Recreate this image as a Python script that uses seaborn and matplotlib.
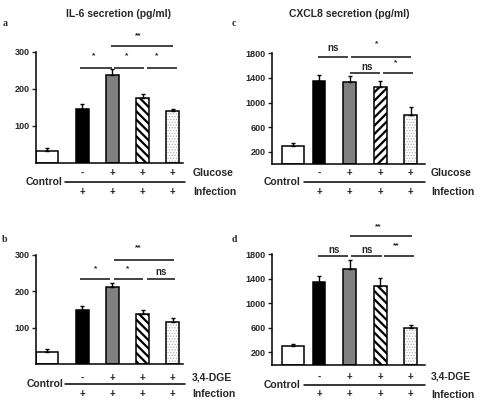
import copy

import matplotlib
matplotlib.use("Agg")
import matplotlib.pyplot as plt
import numpy as np
import seaborn as sns

# IL-6 secretion (pg/ml), panels a and b
il6_glucose = [33, 147, 237, 175, 140]
il6_glucose_err = [7, 11, 16, 11, 5]
il6_dge = [33, 150, 211, 137, 117]
il6_dge_err = [8, 9, 11, 11, 10]

# CXCL8 secretion (pg/ml), panels c and d
cxcl8_glucose = [300, 1355, 1330, 1250, 795]
cxcl8_glucose_err = [40, 88, 100, 95, 140]
cxcl8_dge = [302, 1355, 1561, 1290, 600]
cxcl8_dge_err = [38, 92, 146, 130, 42]

treat_row = ["-", "+", "+", "+"]
infect_row = ["+", "+", "+", "+"]

# significance brackets: (x0, x1, y, label, label_x, label_y)
sig_a = [(44, 76, 258, "*", 58, 290), (78, 108, 258, "*", 91, 290),
         (111, 141, 258, "*", 121, 290), (75, 137, 315, "**", 102, 344)]
sig_b = [(44, 74, 233, "*", 60, 263), (78, 107, 233, "*", 92, 263),
         (111, 139, 233, "ns", 125, 253), (78, 138, 287, "**", 102, 319)]
sig_c = [(46, 76, 1744, "ns", 61, 1890), (79, 139, 1744, "*", 105, 1961),
         (78, 108, 1485, "ns", 95, 1582), (111, 141, 1485, "*", 124, 1653)]
sig_d = [(46, 76, 1772, "ns", 62, 1869), (79, 110, 1772, "ns", 95, 1869),
         (112, 142, 1772, "**", 124, 1934), (78, 140, 2096, "**", 106, 2246)]

sns.set_style("white")
plt.rcParams["font.family"] = ["Liberation Sans", "DejaVu Sans"]
plt.rcParams["font.weight"] = "bold"

W, H = 480, 405
PX = 100 / 72  # pixels per point
fig = plt.figure(figsize=(4.8, 4.05), dpi=100)


def make_axes(left, right, top, bottom):
    return fig.add_axes([left / W, 1 - bottom / H, (right - left) / W, (bottom - top) / H])


def row_text(ax, x, dy, text, ha="center", size=7):
    ax.annotate(text, xy=(x, 0), xycoords=("data", "axes fraction"), xytext=(0, -dy / PX),
                textcoords="offset points", ha=ha, va="center", fontsize=size,
                fontweight="bold", annotation_clip=False)


def draw_panel(ax, vals, errs, pos, ylim, yticks, hatch, sigs, treat_label,
               rows_px, line_x, xmax, ctrl_x, lab_x):
    # control bar is wider than the treatment bars
    plt.rcParams["hatch.linewidth"] = 1.6
    sns.barplot(x=pos[:1], y=vals[:1], native_scale=True, width=22, color="white",
                edgecolor="black", linewidth=1.1, errorbar=None, ax=ax)
    sns.barplot(x=pos[1:], y=vals[1:], native_scale=True, width=12.5 / 30,
                color="white", edgecolor="black", linewidth=1.1, errorbar=None, ax=ax)
    bars = list(ax.patches)
    for p, fc in zip(bars, ["white", "black", "#808080", "white", "white"]):
        p.set_facecolor(fc)
    bars[3].set_hatch(hatch)

    # dotted bar: light grey dots with a black outline on top
    dotted = bars[4]
    dotted.set_hatch("......")
    dotted.set_edgecolor("#b0b0b0")
    dotted.set_linewidth(0)
    try:
        dotted.set_hatch_linewidth(0.6)
    except AttributeError:
        pass
    outline = copy.copy(dotted)
    outline.set_hatch(None)
    outline.set_fill(False)
    outline.set_edgecolor("black")
    outline.set_linewidth(1.1)
    ax.add_patch(outline)

    ax.errorbar(pos, vals, yerr=[np.zeros(5), errs], fmt="none", ecolor="black",
                elinewidth=1.0, capsize=1.6, capthick=1.0, zorder=1)

    ax.set_xlim(0, xmax)
    ax.set_ylim(*ylim)
    ax.set_yticks(yticks)
    ax.set_xticks([])
    ax.set_xlabel("")
    ax.set_ylabel("")
    ax.tick_params(axis="y", length=3, width=1, direction="out", labelsize=6.5,
                   pad=1.5, left=True)
    for lab in ax.get_yticklabels():
        lab.set_fontweight("bold")
    sns.despine(ax=ax)
    for s in ["left", "bottom"]:
        ax.spines[s].set_linewidth(1.1)
        ax.spines[s].set_color("black")

    for x0, x1, y, lab, lx, ly in sigs:
        ax.plot([x0, x1], [y, y], color="#222222", lw=1.2, clip_on=False,
                solid_capstyle="butt")
        ax.text(lx, ly, lab, ha="center", va="center", fontsize=7 if lab == "ns" else 6,
                fontweight="bold", clip_on=False)

    r1, rl, r2 = rows_px
    for x, t in zip(pos[1:], treat_row):
        row_text(ax, x, r1, t)
    for x, t in zip(pos[1:], infect_row):
        row_text(ax, x, r2, t)
    row_text(ax, lab_x, r1, treat_label, ha="left", size=7.5)
    row_text(ax, lab_x, r2, "Infection", ha="left", size=7.5)
    row_text(ax, ctrl_x, rl, "Control", ha="right", size=7.5)

    # separator line under the treatment row
    yfrac = -rl / (ax.get_position().height * H)
    ax.plot(line_x, [yfrac, yfrac], transform=ax.get_xaxis_transform(), color="black",
            lw=1.1, clip_on=False)


pos_left = [11, 46.3, 76.3, 106.5, 136.5]
pos_right = [20.8, 47.1, 77.8, 108.2, 138.7]

ax_a = make_axes(36, 183, 52, 162.8)
ax_c = make_axes(272, 425, 53.3, 164.3)
ax_b = make_axes(36, 183, 255, 364.2)
ax_d = make_axes(272, 425, 254.3, 364.5)

draw_panel(ax_a, il6_glucose, il6_glucose_err, pos_left, (0, 300), [100, 200, 300],
           "\\\\\\\\", sig_a, "Glucose", (10.5, 19.5, 29), (29, 149), 147, 26, 157)
draw_panel(ax_b, il6_dge, il6_dge_err, pos_left, (0, 300), [100, 200, 300],
           "\\\\\\\\", sig_b, "3,4-DGE", (13.4, 20, 30), (29, 149), 147, 27, 156)
draw_panel(ax_c, cxcl8_glucose, cxcl8_glucose_err, pos_right, (0, 1800),
           [200, 600, 1000, 1400, 1800], "////", sig_c, "Glucose", (8.8, 18, 27.4),
           (32, 153), 153, 28, 159)
draw_panel(ax_d, cxcl8_dge, cxcl8_dge_err, pos_right, (0, 1800),
           [200, 600, 1000, 1400, 1800], "\\\\\\\\", sig_d, "3,4-DGE", (12.4, 20, 30),
           (32, 153), 153, 28, 159)

fig.text(118 / W, 1 - 14 / H, "IL-6 secretion (pg/ml)", ha="center", va="center",
         fontsize=7.5, fontweight="bold")
fig.text(349 / W, 1 - 14 / H, "CXCL8 secretion (pg/ml)", ha="center", va="center",
         fontsize=7.5, fontweight="bold")
for lx, ly, letter in [(5, 24, "a"), (234, 24, "c"), (5, 239, "b"), (234, 239, "d")]:
    fig.text(lx / W, 1 - ly / H, letter, ha="center", va="center", fontsize=7,
             fontweight="bold", family=["Liberation Serif", "DejaVu Serif"])

fig.savefig("out.png", dpi=100)
